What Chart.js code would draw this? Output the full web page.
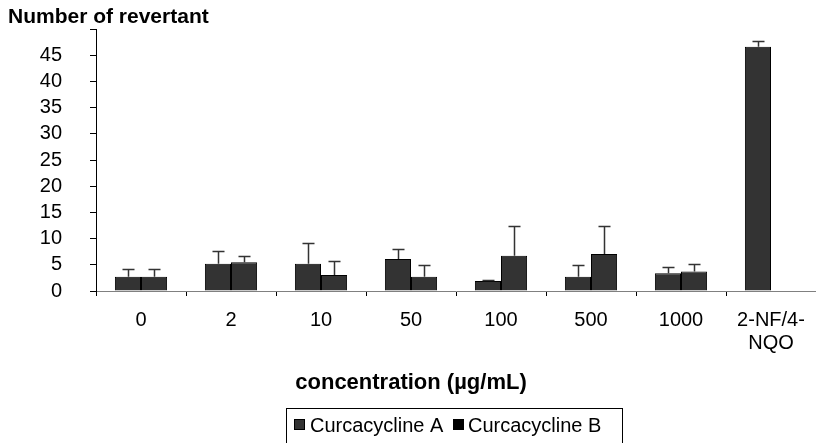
<!DOCTYPE html>
<html>
<head>
<meta charset="utf-8">
<script src="https://cdn.jsdelivr.net/npm/chart.js@4"></script>
<style>
  html, body { margin: 0; padding: 0; background: #fff; }
  canvas { display: block; }
</style>
</head>
<body>
<canvas id="chart" width="816" height="443"></canvas>
<script>
// Ames test: revertant counts per concentration, mean with standard deviation
const categories = ['0', '2', '10', '50', '100', '500', '1000', ['2-NF/4-', 'NQO']];
const seriesNames = ['Curcacycline A', 'Curcacycline B'];
const meanA = [2.7, 5.2, 5.2, 6.1, 1.9, 2.7, 3.4, 46.6];
const sdA   = [1.5, 2.4, 3.9, 1.9, 0.25, 2.2, 1.1, 1.1];
const meanB = [2.7, 5.5, 3.05, 2.7, 6.75, 7.05, 3.7, null];
const sdB   = [1.5, 1.2, 2.75, 2.2, 5.75, 5.45, 1.5, null];
const yLabelValues = [0, 5, 10, 15, 20, 25, 30, 35, 40, 45];
const yAxisTitle = 'Number of revertant';
const xAxisTitle = 'concentration (µg/mL)';

const FONT = '"Liberation Sans", Arial, sans-serif';

const annotations = {
  id: 'annotations',
  afterDatasetsDraw(chart) {
    const ctx = chart.ctx;
    const ys = chart.scales.y;
    const sds = [sdA, sdB];
    ctx.save();
    ctx.strokeStyle = '#333333';
    ctx.lineWidth = 1.5;
    chart.data.datasets.forEach((ds, i) => {
      chart.getDatasetMeta(i).data.forEach((bar, j) => {
        const v = ds.data[j], e = sds[i][j];
        if (v == null || e == null) return;
        const x = Math.round(bar.x) + 0.5;
        const y0 = ys.getPixelForValue(v);
        const y1 = Math.round(ys.getPixelForValue(v + e)) + 0.5;
        ctx.beginPath();
        ctx.moveTo(x, y0);
        ctx.lineTo(x, y1);
        ctx.moveTo(x - 6, y1);
        ctx.lineTo(x + 6, y1);
        ctx.stroke();
      });
    });
    ctx.restore();
  },
  afterDraw(chart) {
    const ctx = chart.ctx;
    ctx.save();
    ctx.fillStyle = '#000';
    ctx.textBaseline = 'alphabetic';
    // axis titles
    ctx.font = 'bold 21px ' + FONT;
    ctx.textAlign = 'left';
    ctx.fillText(yAxisTitle, 8, 23);
    ctx.font = 'bold 22px ' + FONT;
    ctx.textAlign = 'center';
    ctx.fillText(xAxisTitle, 411, 389);

    // legend box
    ctx.strokeStyle = '#000';
    ctx.lineWidth = 1;
    ctx.strokeRect(286.5, 408.5, 336, 60);
    const swatches = [
      { x: 294, fill: '#333333', textX: 310 },
      { x: 453, fill: '#000000', textX: 468 }
    ];
    ctx.font = '20px ' + FONT;
    ctx.textAlign = 'left';
    seriesNames.forEach((name, i) => {
      const s = swatches[i];
      ctx.fillStyle = s.fill;
      ctx.fillRect(s.x, 419, 11, 11);
      ctx.strokeStyle = '#000';
      ctx.strokeRect(s.x + 0.5, 419.5, 10, 10);
      ctx.fillStyle = '#000';
      ctx.fillText(name, s.textX, 432);
    });
    ctx.restore();
  }
};

new Chart(document.getElementById('chart'), {
  type: 'bar',
  data: {
    labels: categories,
    datasets: [
      { label: seriesNames[0], data: meanA, backgroundColor: '#333333', borderColor: '#000', borderWidth: 1 },
      { label: seriesNames[1], data: meanB, backgroundColor: '#333333', borderColor: '#000', borderWidth: 1 }
    ]
  },
  options: {
    responsive: false,
    animation: false,
    devicePixelRatio: 1,
    layout: { padding: { top: 29, right: 0, left: 0, bottom: 0 } },
    datasets: { bar: { categoryPercentage: 0.58, barPercentage: 1.0 } },
    plugins: {
      legend: { display: false },
      tooltip: { enabled: false },
      title: { display: false }
    },
    scales: {
      x: {
        offset: true,
        afterFit(scale) {
          scale.height = 152;
          scale.paddingLeft = 0;
          scale.paddingRight = 0;
        },
        grid: {
          offset: true,
          drawOnChartArea: false,
          drawTicks: true,
          tickLength: 5,
          color: '#000'
        },
        border: { display: true, color: '#808080', width: 1 },
        ticks: {
          color: '#000',
          padding: 13,
          maxRotation: 0,
          autoSkip: false,
          font: { family: FONT, size: 20, lineHeight: 1.15 }
        }
      },
      y: {
        min: 0,
        max: 50,
        afterFit(scale) {
          scale.width = 96;
          scale.paddingTop = 0;
          scale.paddingBottom = 0;
        },
        grid: {
          drawOnChartArea: false,
          drawTicks: true,
          tickLength: 6,
          color: '#000'
        },
        border: { display: true, color: '#000', width: 1 },
        ticks: {
          stepSize: 5,
          autoSkip: false,
          color: '#000',
          padding: 28,
          font: { family: FONT, size: 20 },
          callback: (v) => (yLabelValues.includes(v) ? String(v) : '')
        }
      }
    }
  },
  plugins: [annotations]
});
</script>
</body>
</html>
